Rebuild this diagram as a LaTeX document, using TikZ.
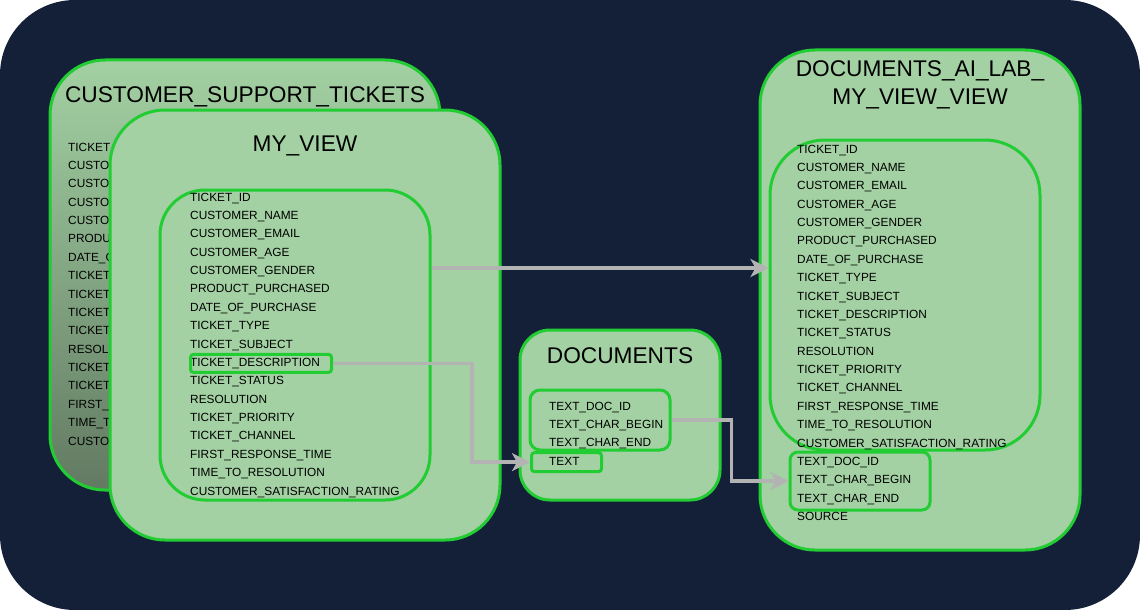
\documentclass[tikz,border=0pt]{standalone}
\usepackage{fontspec}
\setmainfont{Liberation Sans}
\usetikzlibrary{arrows.meta}
\definecolor{night}{HTML}{141F38}
\definecolor{leaf}{HTML}{A3D1A3}
\definecolor{leafdark}{HTML}{627A62}
\definecolor{rim}{HTML}{22CC33}
\definecolor{wire}{HTML}{B3B3B3}

\begin{document}
\begin{tikzpicture}[x=1pt,y=1pt,node distance=18.375pt,
  >={Stealth[length=18pt,width=18pt,inset=5pt]},
  card/.style={draw=rim,line width=3pt,fill=leaf,inner sep=0pt,rounded corners=#1},
  card/.default=55pt,
  keybox/.style={draw=rim,line width=3pt,inner sep=0pt,rounded corners=#1},
  keybox/.default=3pt,
  field/.style={text width=215pt,align=left,inner sep=0pt,text height=9pt,text depth=3pt,
    font=\fontsize{11.85pt}{14pt}\selectfont},
  title/.style={align=center,font=\fontsize{22.7pt}{28pt}\selectfont},
  link/.style={->,draw=wire,line width=3.5pt}]

\fill[white] (0,0) rectangle (1140,-610);
\fill[night,rounded corners=75pt] (0,0) rectangle (1140,-610);

% source table, mostly hidden behind the view
\node[card,top color=leaf,bottom color=leafdark,minimum width=390pt,minimum height=430pt] (cst) at (245,-275) {};
\node[title] (cst-t) at (245,-97) {CUSTOMER\_SUPPORT\_TICKETS};
\node[field,anchor=west] (c1) at (68,-148) {TICKET\_ID};
\node[field,below of=c1] (c2) {CUSTOMER\_NAME};
\node[field,below of=c2] (c3) {CUSTOMER\_EMAIL};
\node[field,below of=c3] (c4) {CUSTOMER\_AGE};
\node[field,below of=c4] (c5) {CUSTOMER\_GENDER};
\node[field,below of=c5] (c6) {PRODUCT\_PURCHASED};
\node[field,below of=c6] (c7) {DATE\_OF\_PURCHASE};
\node[field,below of=c7] (c8) {TICKET\_TYPE};
\node[field,below of=c8] (c9) {TICKET\_SUBJECT};
\node[field,below of=c9] (c10) {TICKET\_DESCRIPTION};
\node[field,below of=c10] (c11) {TICKET\_STATUS};
\node[field,below of=c11] (c12) {RESOLUTION};
\node[field,below of=c12] (c13) {TICKET\_PRIORITY};
\node[field,below of=c13] (c14) {TICKET\_CHANNEL};
\node[field,below of=c14] (c15) {FIRST\_RESPONSE\_TIME};
\node[field,below of=c15] (c16) {TIME\_TO\_RESOLUTION};
\node[field,below of=c16] (c17) {CUSTOMER\_SATISFACTION\_RATING};

% the view
\node[card,minimum width=390pt,minimum height=430pt] (mv) at (305,-325) {};
\node[title] (mv-t) at (305,-146) {MY\_VIEW};
\node[card=45pt,minimum width=270pt,minimum height=310pt] (mvbox) at (295,-345) {};
\node[field,anchor=west] (m1) at (190,-198) {TICKET\_ID};
\node[field,below of=m1] (m2) {CUSTOMER\_NAME};
\node[field,below of=m2] (m3) {CUSTOMER\_EMAIL};
\node[field,below of=m3] (m4) {CUSTOMER\_AGE};
\node[field,below of=m4] (m5) {CUSTOMER\_GENDER};
\node[field,below of=m5] (m6) {PRODUCT\_PURCHASED};
\node[field,below of=m6] (m7) {DATE\_OF\_PURCHASE};
\node[field,below of=m7] (m8) {TICKET\_TYPE};
\node[field,below of=m8] (m9) {TICKET\_SUBJECT};
\node[field,below of=m9] (m10) {TICKET\_DESCRIPTION};
\node[field,below of=m10] (m11) {TICKET\_STATUS};
\node[field,below of=m11] (m12) {RESOLUTION};
\node[field,below of=m12] (m13) {TICKET\_PRIORITY};
\node[field,below of=m13] (m14) {TICKET\_CHANNEL};
\node[field,below of=m14] (m15) {FIRST\_RESPONSE\_TIME};
\node[field,below of=m15] (m16) {TIME\_TO\_RESOLUTION};
\node[field,below of=m16] (m17) {CUSTOMER\_SATISFACTION\_RATING};
\node[keybox,minimum width=141pt,minimum height=18pt,anchor=west] (desc) at ([xshift=-1pt]m10.west) {};

% documents
\node[card=30pt,minimum width=200pt,minimum height=170pt] (docs) at (620,-415) {};
\node[title] (docs-t) at (620,-356) {DOCUMENTS};
\node[card=10pt,minimum width=140pt,minimum height=60pt] (docbox) at (600,-420) {};
\node[field,anchor=west] (d1) at (549,-407) {TEXT\_DOC\_ID};
\node[field,below of=d1] (d2) {TEXT\_CHAR\_BEGIN};
\node[field,below of=d2] (d3) {TEXT\_CHAR\_END};
\node[field,below of=d3] (d4) {TEXT};
\node[keybox,minimum width=70pt,minimum height=19pt,anchor=west] (txt) at ([xshift=-19pt]d4.west) {};

% result view
\node[card,minimum width=320pt,minimum height=500pt] (dvv) at (920,-300) {};
\node[title] (dvv-t) at (920,-85) {DOCUMENTS\_AI\_LAB\_\\MY\_VIEW\_VIEW};
\node[card,minimum width=270pt,minimum height=310pt] (dvbox) at (905,-295) {};
\node[keybox=8pt,minimum width=140pt,minimum height=58pt] (range) at (860,-481) {};
\node[field,anchor=west] (v1) at (797,-150) {TICKET\_ID};
\node[field,below of=v1] (v2) {CUSTOMER\_NAME};
\node[field,below of=v2] (v3) {CUSTOMER\_EMAIL};
\node[field,below of=v3] (v4) {CUSTOMER\_AGE};
\node[field,below of=v4] (v5) {CUSTOMER\_GENDER};
\node[field,below of=v5] (v6) {PRODUCT\_PURCHASED};
\node[field,below of=v6] (v7) {DATE\_OF\_PURCHASE};
\node[field,below of=v7] (v8) {TICKET\_TYPE};
\node[field,below of=v8] (v9) {TICKET\_SUBJECT};
\node[field,below of=v9] (v10) {TICKET\_DESCRIPTION};
\node[field,below of=v10] (v11) {TICKET\_STATUS};
\node[field,below of=v11] (v12) {RESOLUTION};
\node[field,below of=v12] (v13) {TICKET\_PRIORITY};
\node[field,below of=v13] (v14) {TICKET\_CHANNEL};
\node[field,below of=v14] (v15) {FIRST\_RESPONSE\_TIME};
\node[field,below of=v15] (v16) {TIME\_TO\_RESOLUTION};
\node[field,below of=v16] (v17) {CUSTOMER\_SATISFACTION\_RATING};
\node[field,below of=v17] (v18) {TEXT\_DOC\_ID};
\node[field,below of=v18] (v19) {TEXT\_CHAR\_BEGIN};
\node[field,below of=v19] (v20) {TEXT\_CHAR\_END};
\node[field,below of=v20] (v21) {SOURCE};

\coordinate (gap) at ([yshift=77pt]mvbox.east);
\draw[link] (gap) -- (gap -| dvbox.west);
\draw[link] (desc.east) -- ++(139pt,0) |- (txt.west);
\draw[link] (docbox.east) -- ++(60pt,0) |- (range.west);
\end{tikzpicture}
\end{document}
